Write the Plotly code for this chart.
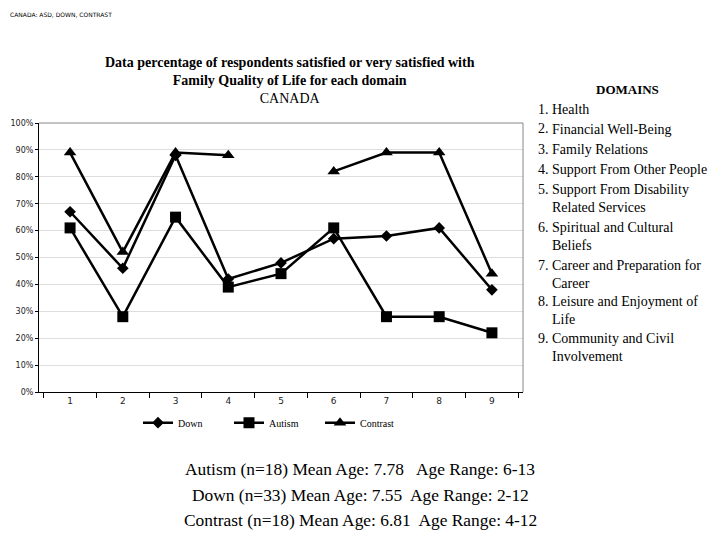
import plotly.graph_objects as go

domains = ["1", "2", "3", "4", "5", "6", "7", "8", "9"]
down = [0.67, 0.46, 0.88, 0.42, 0.48, 0.57, 0.58, 0.61, 0.38]
autism = [0.61, 0.28, 0.65, 0.39, 0.44, 0.61, 0.28, 0.28, 0.22]
contrast = [0.89, 0.52, 0.89, 0.88, None, 0.82, 0.89, 0.89, 0.44]

domain_names = [
    "Health",
    "Financial Well-Being",
    "Family Relations",
    "Support From Other People",
    "Support From Disability<br>Related Services",
    "Spiritual and Cultural<br>Beliefs",
    "Career and Preparation for<br>Career",
    "Leisure and Enjoyment of<br>Life",
    "Community and Civil<br>Involvement",
]

sample_lines = [
    "Autism (n=18) Mean Age: 7.78   Age Range: 6-13",
    "Down (n=33) Mean Age: 7.55  Age Range: 2-12",
    "Contrast (n=18) Mean Age: 6.81  Age Range: 4-12",
]

serif = "Liberation Serif"

# page has 8px body margin, so figure is 712x532 and plot sits at page x 39..523, y 123..392
fig = go.Figure()
series = [("Down", down, "diamond", 9), ("Autism", autism, "square", 11),
          ("Contrast", contrast, "triangle-up", 11)]
for name, vals, sym, sz in series:
    fig.add_trace(go.Scatter(
        x=domains, y=vals, name=name, mode="lines+markers",
        line=dict(color="black", width=2.5),
        marker=dict(symbol=sym, size=sz, color="black"),
        connectgaps=False,
    ))

fig.update_layout(
    width=712, height=532,
    margin=dict(l=31, r=197, t=115, b=148),
    plot_bgcolor="white", paper_bgcolor="white",
    showlegend=True,
    legend=dict(orientation="h", x=(138 - 39) / 484, y=-0.06, xanchor="left", yanchor="top",
                font=dict(family=serif, size=10, color="black"),
                entrywidth=46, entrywidthmode="pixels", itemwidth=30),
    xaxis=dict(type="category", tickson="boundaries", ticks="outside",
               ticklen=5, tickcolor="black", showline=True, linecolor="black",
               linewidth=1, showgrid=False, automargin=False,
               tickfont=dict(family="DejaVu Sans", size=9, color="#222")),
    yaxis=dict(range=[0, 1], dtick=0.1, tickformat=".0%", ticks="outside",
               ticklen=3, tickcolor="black", showline=True, linecolor="black",
               linewidth=1, gridcolor="#dddddd", zeroline=False, automargin=False,
               tickfont=dict(family="DejaVu Sans", size=8, color="#222")),
    shapes=[
        dict(type="line", xref="paper", yref="paper", x0=0, x1=1, y0=1, y1=1,
             line=dict(color="#888888", width=1)),
        dict(type="line", xref="paper", yref="paper", x0=1, x1=1, y0=0, y1=1,
             line=dict(color="#888888", width=1)),
    ],
)

ann = []
ann.append(dict(text="CANADA: ASD, DOWN, CONTRAST", xref="paper", yref="paper",
                x=(8 - 39) / 484, y=(392 - 9) / 269, xanchor="left", yanchor="top", showarrow=False,
                font=dict(family="DejaVu Sans", size=6, color="black")))
ann.append(dict(text="<b>Data percentage of respondents satisfied or very satisfied with<br>"
                     "Family Quality of Life for each domain</b><br>CANADA",
                xref="paper", yref="paper", x=(290 - 39) / 484, y=(392 - 80) / 269,
                xanchor="center", yanchor="middle", showarrow=False,
                font=dict(family=serif, size=14, color="black")))
ann.append(dict(text="<b>DOMAINS</b>", xref="paper", yref="paper", x=1.215, y=(392 - 90) / 269,
                xanchor="center", yanchor="middle", showarrow=False,
                font=dict(family=serif, size=13, color="black")))
item_y = [109, 129, 149, 169, 189, 227, 265, 301, 338]
for i, (nm, py) in enumerate(zip(domain_names, item_y)):
    ann.append(dict(text=f"{i + 1}.", xref="paper", yref="paper",
                    x=(536 - 39) / 484, y=(392 - py) / 269, xanchor="left",
                    yanchor="middle", showarrow=False,
                    font=dict(family=serif, size=14, color="black")))
    ann.append(dict(text=nm, xref="paper", yref="paper", align="left",
                    x=(550 - 39) / 484, y=(392 - py + 9) / 269, xanchor="left",
                    yanchor="top", showarrow=False,
                    font=dict(family=serif, size=14, color="black")))
for j, (line, py) in enumerate(zip(sample_lines, [469, 495, 520])):
    ann.append(dict(text=line, xref="paper", yref="paper", x=(360 - 39) / 484,
                    y=(392 - py) / 269, xanchor="center", yanchor="middle",
                    showarrow=False, font=dict(family=serif, size=17.4, color="black")))
fig.update_layout(annotations=ann)

fig.write_html("out.html")
